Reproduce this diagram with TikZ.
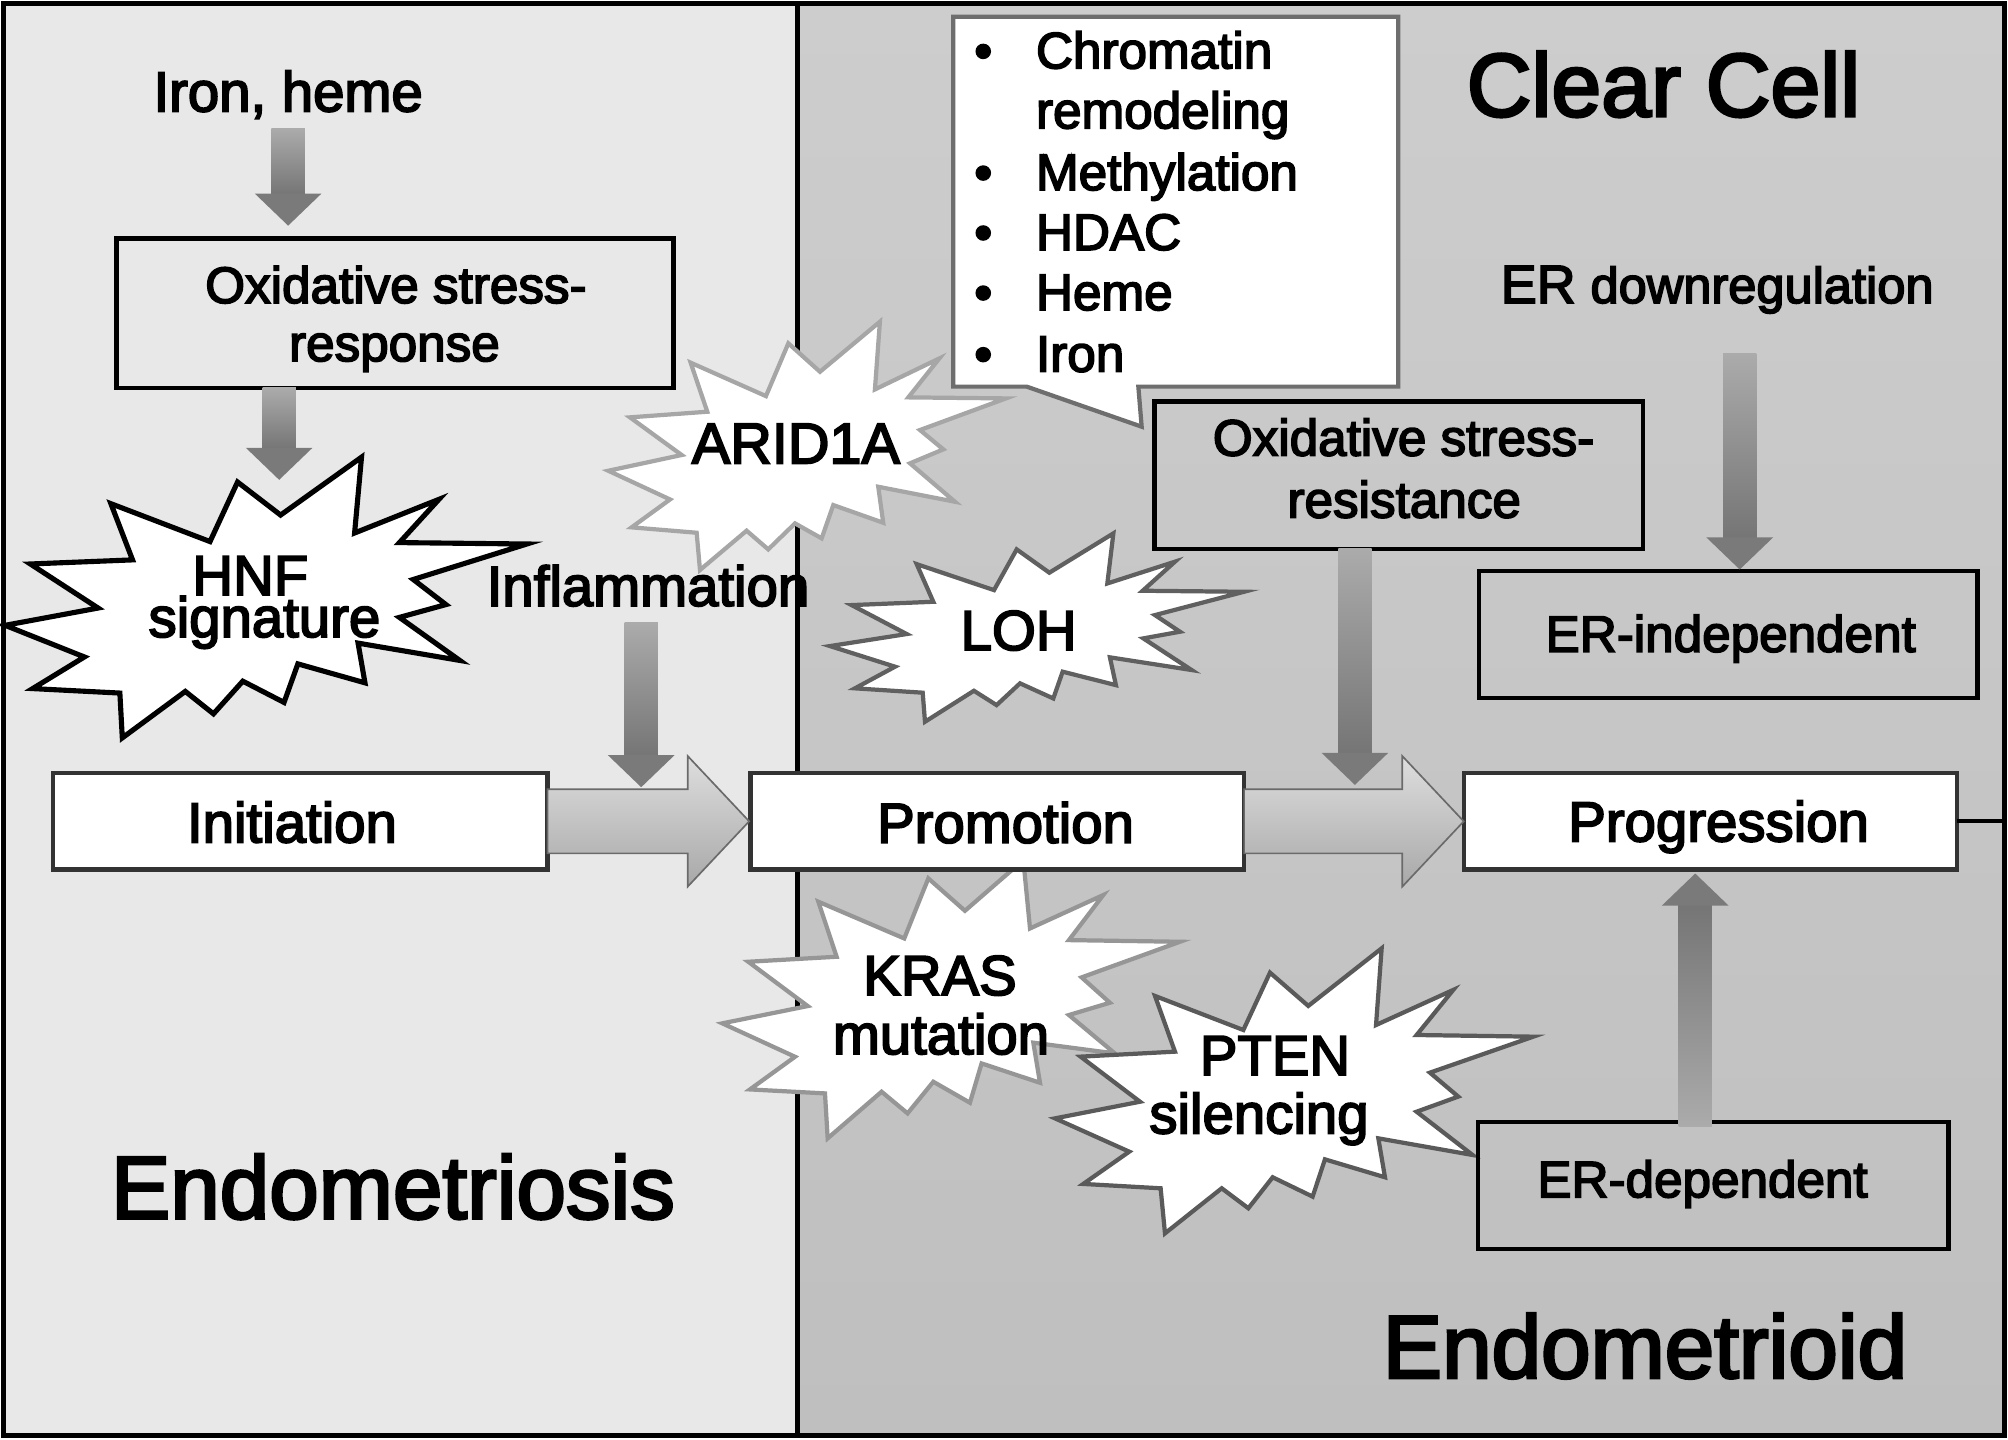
\documentclass[tikz,border=0pt]{standalone}
\usepackage{fontspec}
\newfontfamily\fnt{Liberation Sans}[FakeBold=3.2]
\usetikzlibrary{calc}
\definecolor{leftbg}{HTML}{E8E8E8}
\definecolor{rtop}{HTML}{CDCDCD}
\definecolor{rbot}{HTML}{BFBFBF}
\definecolor{arrlight}{HTML}{ABABAB}
\definecolor{arrdark}{HTML}{757575}
\definecolor{arrhead}{HTML}{7A7A7A}
\definecolor{blklight}{HTML}{DEDEDE}
\definecolor{blkdark}{HTML}{A8A8A8}
\definecolor{blkline}{HTML}{6A6A6A}
\definecolor{aridc}{HTML}{A6A6A6}
\definecolor{krasc}{HTML}{969696}
\definecolor{lohc}{HTML}{606060}
\definecolor{ptenc}{HTML}{5A5A5A}
\definecolor{callc}{HTML}{6E6E6E}
\definecolor{stagec}{HTML}{333333}
\newcommand\gdownarrow[2]{%
  \shade[top color=arrlight,bottom color=arrdark] let \p1=(#1),\p2=(#2) in
    (\x1-13pt,\y1) rectangle (\x1+13pt,\y2+24pt);
  \fill[arrhead] let \p1=(#1),\p2=(#2) in
    (\x1-26pt,\y2+25pt) -- (\x1+26pt,\y2+25pt) -- (\x1,\y2) -- cycle;}
\newcommand\guparrow[2]{%
  \shade[top color=arrdark,bottom color=arrlight] let \p1=(#1),\p2=(#2) in
    (\x1-13pt,\y1) rectangle (\x1+13pt,\y2-24pt);
  \fill[arrhead] let \p1=(#1),\p2=(#2) in
    (\x1-26pt,\y2-25pt) -- (\x1+26pt,\y2-25pt) -- (\x1,\y2) -- cycle;}
\newcommand\gblockarrow[2]{%
  \shadedraw[top color=blklight,bottom color=blkdark,draw=blkline,line width=1.3pt]
    let \p1=(#1),\p2=(#2) in
    (\x1,\y1+25pt) -- (\x2-48pt,\y1+25pt) -- (\x2-48pt,\y1+51pt) -- (\x2,\y1)
    -- (\x2-48pt,\y1-51pt) -- (\x2-48pt,\y1-25pt) -- (\x1,\y1-25pt) -- cycle;}
\tikzset{
  fs/.style={font=\fnt\fontsize{#1}{#1}\selectfont},
  lbl/.style={anchor=base, inner sep=0pt, outer sep=0pt, text=black},
  bx/.style={draw=black, line width=3.5pt, inner sep=0pt, outer sep=0pt},
  stagebox/.style={draw=stagec, fill=white, line width=3.5pt, inner sep=0pt, outer sep=0pt,
    minimum height=75.5pt},
  burst/.style={fill=white, draw=#1, line width=3.3pt, line join=miter},
}
\begin{document}
\begin{tikzpicture}[x=1pt,y=-1pt]
\useasboundingbox (0,0) rectangle (1568,1124);
% panels
\fill[leftbg] (2.5,2.5) rectangle (622.5,1121);
\shade[top color=rtop,bottom color=rbot] (622.5,2.5) rectangle (1565,1121);
\draw[line width=4pt] (2.5,2.5) rectangle (1565,1121);
\draw[line width=4pt] (622.5,2.5) -- (622.5,1121);
\coordinate (frameR) at (1565,0);
% bursts
\draw[burst=aridc] (687.1,251.2) -- (683.2,304.1) -- (733.5,279.9) -- (709.3,310.3) -- (785.5,311.1) -- (718.4,335.8) -- (736.6,350.9) -- (710.6,361.8) -- (745.7,391.8) -- (685.8,380.1) -- (689.7,408.2) -- (650.7,394.4) -- (641.6,420.4) -- (620.8,408.7) -- (599.9,429.0) -- (583.0,414.4) -- (546.6,445.1) -- (544.0,416.0) -- (493.2,411.8) -- (523.2,390.0) -- (475.0,367.6) -- (532.3,355.3) -- (491.9,325.9) -- (552.3,321.5) -- (539.3,283.2) -- (598.1,309.3) -- (615.6,268.1) -- (640.3,290.3) -- cycle;
\draw[burst=krasc] (724.9,685.9) -- (753.5,711.2) -- (799.1,671.6) -- (804.3,725.0) -- (861.5,698.9) -- (834.7,734.1) -- (921.4,735.4) -- (844.6,763.2) -- (866.7,783.0) -- (834.7,792.6) -- (870.6,822.6) -- (806.9,814.2) -- (812.1,845.5) -- (766.5,830.4) -- (757.4,861.1) -- (728.8,844.7) -- (708.7,869.4) -- (688.4,852.5) -- (646.3,888.9) -- (644.2,853.8) -- (585.6,850.7) -- (620.8,825.2) -- (564.0,799.1) -- (630.7,785.6) -- (584.3,751.0) -- (653.3,747.1) -- (639.0,704.1) -- (706.1,732.8) -- cycle;
\draw[burst=black,line width=4pt] (282.3,357.0) -- (276.9,416.2) -- (342.8,389.9) -- (311.9,423.7) -- (411.4,424.8) -- (322.7,452.5) -- (348.2,472.1) -- (311.9,482.1) -- (359.0,515.7) -- (279.6,502.2) -- (285.0,533.2) -- (232.6,518.4) -- (221.8,548.5) -- (189.6,531.9) -- (166.7,557.4) -- (144.7,539.9) -- (95.5,576.2) -- (93.6,541.2) -- (25.5,537.7) -- (65.9,513.0) -- (4.0,488.3) -- (76.6,474.8) -- (23.7,440.4) -- (103.5,437.2) -- (86.6,393.3) -- (164.0,422.9) -- (185.5,376.4) -- (219.1,402.2) -- cycle;
\draw[burst=lohc] (869.4,416.5) -- (864.7,455.6) -- (917.5,438.6) -- (892.3,461.3) -- (971.4,462.1) -- (901.9,480.3) -- (921.4,493.3) -- (892.8,498.5) -- (930.5,523.2) -- (866.7,513.3) -- (871.4,535.0) -- (829.8,524.5) -- (822.5,545.4) -- (796.5,533.6) -- (778.2,550.6) -- (760.5,539.4) -- (722.3,563.6) -- (720.5,540.9) -- (667.6,537.5) -- (698.9,520.6) -- (648.1,504.5) -- (708.0,495.1) -- (665.0,472.5) -- (728.8,469.9) -- (715.8,440.5) -- (776.2,460.8) -- (793.9,429.0) -- (819.4,447.2) -- cycle;
\draw[burst=ptenc] (1078.9,740.5) -- (1074.5,800.4) -- (1134.8,773.0) -- (1106.2,808.2) -- (1197.3,809.5) -- (1116.6,837.6) -- (1138.7,856.3) -- (1106.2,868.1) -- (1149.9,901.9) -- (1076.3,888.9) -- (1081.5,919.3) -- (1034.6,905.3) -- (1025.0,934.4) -- (993.8,919.3) -- (974.8,943.5) -- (954.0,927.9) -- (909.7,963.1) -- (906.3,927.9) -- (845.9,924.5) -- (881.8,899.3) -- (823.8,873.3) -- (890.2,860.3) -- (843.8,825.1) -- (917.5,821.2) -- (901.9,777.7) -- (970.9,804.3) -- (991.7,759.5) -- (1021.6,785.5) -- cycle;
% callout
\draw[fill=white, draw=callc, line width=3.3pt, line join=miter] (744.4,13) -- (1091.9,13) -- (1091.9,301.9) -- (888.9,301.9) -- (891.5,333.2) -- (801.7,301.9) -- (744.4,301.9) -- cycle;
% boxes
\node[bx, minimum width=435pt, minimum height=116.6pt] (osr) at (308.5,244.5) {};
\node[bx, minimum width=381.5pt, minimum height=115.1pt] (res) at (1092.25,370.95) {};
\node[bx, minimum width=389pt, minimum height=99.1pt] (erind) at (1349.5,495.45) {};
\node[bx, minimum width=367.5pt, minimum height=99.4pt] (erdep) at (1337.75,925.7) {};
\node[stagebox, minimum width=386pt] (init) at (234.5,641.35) {};
\node[stagebox, minimum width=385.5pt] (prom) at (778.75,641.35) {};
\node[stagebox, minimum width=385pt] (prog) at (1335.5,641.35) {};
\draw[line width=3pt] (prog.east) -- (prog.east -| frameR);
% block arrows
\gblockarrow{init.east}{$(prom.west)+(-1,0)$}
\gblockarrow{prom.east}{prog.west}
% small arrows
\coordinate (a1s) at (225,100.3);
\coordinate (a1e) at ($(osr.north)+(-83.5,-10)$);
\gdownarrow{a1s}{a1e}
\coordinate (a2s) at ($(osr.south)+(-90.5,0)$);
\coordinate (a2e) at (218,374.7);
\gdownarrow{a2s}{a2e}
\coordinate (a3s) at (500.7,486.4);
\coordinate (a3e) at (500.7,614.7);
\gdownarrow{a3s}{a3e}
\coordinate (a4s) at ($(res.south)+(-34.25,0)$);
\coordinate (a4e) at (1058,612.9);
\gdownarrow{a4s}{a4e}
\coordinate (a5s) at (1358.5,276.3);
\coordinate (a5e) at ($(erind.north)+(9,-1.2)$);
\gdownarrow{a5s}{a5e}
\coordinate (a6s) at ($(erdep.north)+(-14,3.7)$);
\coordinate (a6e) at ($(prog.south)+(-11.75,3)$);
\guparrow{a6s}{a6e}
% texts
\node[lbl, fs=44] (t-iron) at (225,87) {Iron, heme};
\node[lbl, fs=44] (t-infl) at (506,473.1) {Inflammation};
\node[lbl, fs=40] (t-osr1) at (309.2,236.6) {Oxidative stress-};
\node[lbl, fs=40] (t-osr2) at (308,282) {response};
\node[lbl, fs=40] (t-res1) at (1096,355.8) {Oxidative stress-};
\node[lbl, fs=40] (t-res2) at (1096.5,404.2) {resistance};
\node[lbl, fs=44] (t-hnf1) at (195.5,464.6) {HNF};
\node[lbl, fs=44] (t-hnf2) at (206.5,497.4) {signature};
\node[lbl, fs=45] (t-arid) at (621.5,361.8) {ARID1A};
\node[lbl, fs=44] (t-loh) at (795.4,507.6) {LOH};
\node[lbl, fs=44] (t-kras1) at (734,777) {KRAS};
\node[lbl, fs=44] (t-kras2) at (734.8,823.1) {mutation};
\node[lbl, fs=44] (t-pten1) at (995.6,839.4) {PTEN};
\node[lbl, fs=44] (t-pten2) at (983.1,885) {silencing};
\node[lbl, fs=44] (t-init) at (228,657.8) {Initiation};
\node[lbl, fs=44] (t-prom) at (785.2,658.1) {Promotion};
\node[lbl, fs=44] (t-prog) at (1342,657) {Progression};
\node[lbl, fs=40] (t-erind) at (1351.5,509) {ER-independent};
\node[lbl, fs=40] (t-erdep) at (1329.5,934.9) {ER-dependent};
\node[lbl, anchor=base west] (t-erdown) at (1172,236.6) {\fnt\fontsize{42}{42}\selectfont ER \fontsize{39.5}{42}\selectfont downregulation};
\node[lbl, fs=70] (t-clear) at (1299,90.8) {Clear Cell};
\node[lbl, fs=69.5] (t-endosis) at (306.8,951.5) {Endometriosis};
\node[lbl, fs=69.5] (t-endoid) at (1284.5,1075.9) {Endometrioid};
% bullet list
\node[lbl, fs=40] (b1) at (767.8,53.4) {•};
\node[lbl, fs=40] (b2) at (767.8,148.4) {•};
\node[lbl, fs=40] (b3) at (767.8,195.2) {•};
\node[lbl, fs=40] (b4) at (767.8,242.1) {•};
\node[lbl, fs=40] (b5) at (767.8,290.2) {•};
\node[lbl, fs=40, anchor=base west] (c1) at (809,53.4) {Chromatin};
\node[lbl, fs=40, anchor=base west] (c2) at (809,100.2) {remodeling};
\node[lbl, fs=40, anchor=base west] (c3) at (809,148.4) {Methylation};
\node[lbl, fs=40, anchor=base west] (c4) at (809,195.2) {HDAC};
\node[lbl, fs=40, anchor=base west] (c5) at (809,242.1) {Heme};
\node[lbl, fs=40, anchor=base west] (c6) at (809,290.2) {Iron};
\end{tikzpicture}
\end{document}
